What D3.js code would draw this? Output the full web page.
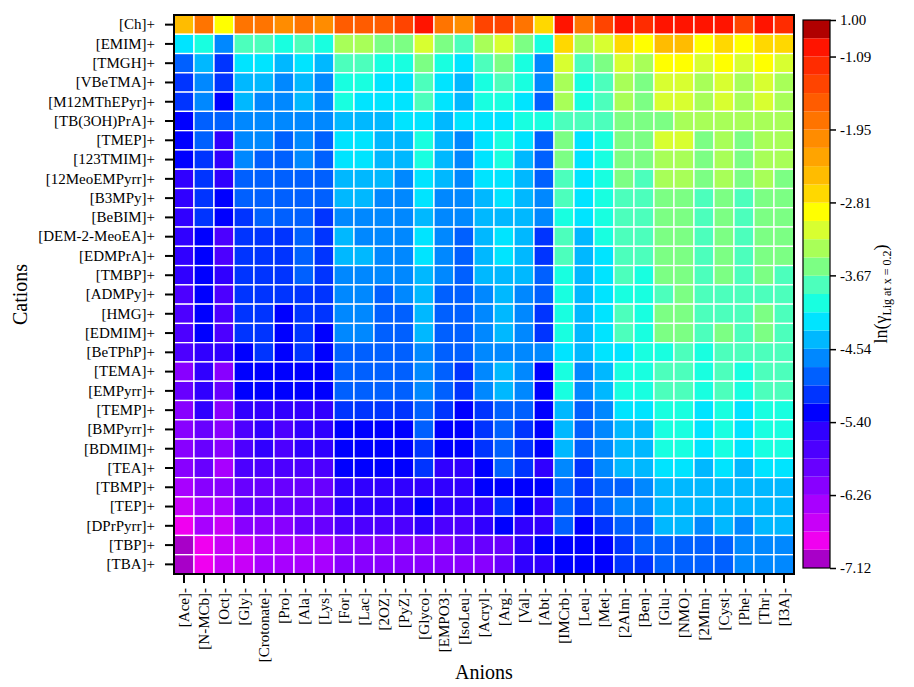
<!DOCTYPE html>
<html>
<head>
<meta charset="utf-8">
<script src="https://cdn.jsdelivr.net/npm/d3@7"></script>
<style>
  body { margin: 0; background: #fff; }
  text { font-family: "Liberation Serif", "Times New Roman", serif; fill: #000; }
</style>
</head>
<body>
<div class="Canvas"></div>
<script>
// Anions along x, cations along y.
const anions = ['[Ace]-', '[N-MCb]-', '[Oct]-', '[Gly]-', '[Crotonate]-', '[Pro]-', '[Ala]-', '[Lys]-', '[For]-', '[Lac]-',
    '[2OZ]-', '[PyZ]-', '[Glyco]-', '[EMPO3]-', '[IsoLeu]-', '[Acryl]-', '[Arg]-', '[Val]-', '[Abt]-', '[IMCrb]-',
    '[Leu]-', '[Met]-', '[2AIm]-', '[Ben]-', '[Glu]-', '[NMO]-', '[2MIm]-', '[Cyst]-', '[Phe]-', '[Thr]-', '[I3A]-'];
const cations = ['[Ch]+', '[EMIM]+', '[TMGH]+', '[VBeTMA]+', '[M12MThEPyr]+', '[TB(3OH)PrA]+', '[TMEP]+', '[123TMIM]+',
    '[12MeoEMPyrr]+', '[B3MPy]+', '[BeBIM]+', '[DEM-2-MeoEA]+', '[EDMPrA]+', '[TMBP]+', '[ADMPy]+', '[HMG]+', '[EDMIM]+',
    '[BeTPhP]+', '[TEMA]+', '[EMPyrr]+', '[TEMP]+', '[BMPyrr]+', '[BDMIM]+', '[TEA]+', '[TBMP]+', '[TEP]+', '[DPrPyrr]+',
    '[TBP]+', '[TBA]+'];

// ln(gamma) values, one row per cation.
const values = [
    [-2.49,-1.85,-2.92,-1.85,-1.85,-2.06,-1.85,-2.06,-1.63,-1.63,-1.63,-1.42,-0.98,-1.85,-2.06,-1.42,-1.42,-1.85,-2.71,-0.98,-1.85,-1.42,-0.98,-1.20,-0.98,-0.98,-0.98,-0.98,-1.42,-0.98,-1.20],
    [-4.22,-4.00,-4.65,-3.78,-3.78,-4.00,-3.78,-4.00,-3.35,-3.35,-3.57,-3.57,-3.14,-3.57,-3.78,-3.35,-3.14,-3.57,-4.00,-2.71,-3.35,-3.14,-2.71,-2.92,-2.49,-2.49,-2.92,-2.71,-2.92,-2.71,-2.71],
    [-4.86,-4.43,-5.08,-4.22,-4.22,-4.43,-4.22,-4.43,-3.78,-3.78,-4.00,-4.00,-3.57,-4.00,-4.22,-3.78,-3.57,-4.00,-4.65,-3.14,-3.78,-3.57,-3.14,-3.35,-2.92,-2.92,-3.14,-2.92,-3.14,-2.92,-3.14],
    [-5.08,-4.65,-5.08,-4.43,-4.43,-4.65,-4.43,-4.65,-4.00,-4.00,-4.22,-4.22,-3.78,-4.22,-4.43,-4.00,-3.78,-4.00,-4.65,-3.35,-4.00,-3.78,-3.35,-3.57,-3.14,-3.14,-3.35,-3.14,-3.35,-3.14,-3.35],
    [-5.08,-4.65,-5.29,-4.43,-4.65,-4.65,-4.43,-4.65,-4.00,-4.22,-4.22,-4.22,-3.78,-4.22,-4.43,-4.00,-4.00,-4.22,-4.86,-3.35,-4.00,-3.78,-3.35,-3.57,-3.14,-3.14,-3.35,-3.14,-3.35,-3.14,-3.35],
    [-5.29,-4.86,-4.86,-4.65,-4.65,-4.65,-4.65,-4.65,-4.43,-4.43,-4.43,-4.22,-4.22,-4.43,-4.22,-4.22,-4.22,-4.00,-4.00,-3.78,-3.78,-3.78,-3.57,-3.57,-3.57,-3.35,-3.35,-3.35,-3.35,-3.35,-3.35],
    [-5.29,-4.86,-5.51,-4.65,-4.65,-4.86,-4.65,-4.86,-4.22,-4.22,-4.43,-4.43,-4.00,-4.43,-4.65,-4.22,-4.00,-4.22,-4.86,-3.57,-4.22,-4.00,-3.57,-3.57,-3.14,-3.14,-3.57,-3.35,-3.57,-3.35,-3.35],
    [-5.29,-5.08,-5.51,-4.65,-4.86,-4.86,-4.65,-4.86,-4.22,-4.22,-4.43,-4.43,-4.00,-4.43,-4.65,-4.22,-4.00,-4.43,-4.86,-3.57,-4.22,-4.00,-3.57,-3.57,-3.35,-3.35,-3.57,-3.35,-3.57,-3.35,-3.35],
    [-5.51,-5.08,-5.51,-4.86,-4.86,-4.86,-4.86,-4.86,-4.43,-4.43,-4.43,-4.65,-4.22,-4.43,-4.65,-4.22,-4.22,-4.43,-4.86,-3.78,-4.22,-4.00,-3.57,-3.78,-3.35,-3.35,-3.57,-3.35,-3.57,-3.35,-3.57],
    [-5.51,-5.08,-5.29,-4.86,-4.86,-4.86,-4.86,-4.86,-4.43,-4.43,-4.65,-4.65,-4.22,-4.65,-4.65,-4.43,-4.22,-4.43,-4.65,-3.78,-4.22,-4.00,-3.78,-3.78,-3.57,-3.57,-3.78,-3.57,-3.78,-3.57,-3.57],
    [-5.51,-5.08,-5.29,-5.08,-4.86,-4.86,-4.86,-5.08,-4.65,-4.65,-4.65,-4.65,-4.43,-4.65,-4.65,-4.43,-4.43,-4.43,-4.65,-4.00,-4.22,-4.00,-3.78,-3.78,-3.57,-3.57,-3.78,-3.57,-3.78,-3.57,-3.57],
    [-5.51,-5.29,-5.72,-5.08,-5.08,-5.08,-4.86,-5.08,-4.43,-4.65,-4.65,-4.65,-4.22,-4.65,-4.86,-4.43,-4.22,-4.43,-5.08,-3.78,-4.43,-4.00,-3.78,-3.78,-3.57,-3.57,-3.78,-3.57,-3.78,-3.57,-3.57],
    [-5.51,-5.29,-5.72,-5.08,-5.08,-5.08,-4.86,-5.08,-4.43,-4.43,-4.65,-4.65,-4.22,-4.65,-4.86,-4.43,-4.22,-4.43,-5.08,-3.78,-4.43,-4.22,-3.78,-3.78,-3.57,-3.57,-3.78,-3.57,-3.78,-3.57,-3.57],
    [-5.51,-5.29,-5.51,-5.08,-5.08,-5.08,-4.86,-5.08,-4.65,-4.65,-4.65,-4.65,-4.43,-4.65,-4.86,-4.43,-4.43,-4.43,-4.86,-4.00,-4.43,-4.22,-3.78,-4.00,-3.57,-3.57,-3.78,-3.57,-3.78,-3.57,-3.78],
    [-5.72,-5.29,-5.72,-5.08,-5.08,-5.08,-5.08,-5.08,-4.65,-4.65,-4.86,-4.65,-4.43,-4.86,-4.86,-4.65,-4.43,-4.65,-4.86,-4.00,-4.43,-4.22,-4.00,-4.00,-3.78,-3.57,-3.78,-3.78,-3.78,-3.78,-3.78],
    [-5.72,-5.29,-5.72,-5.08,-5.08,-5.29,-5.08,-5.08,-4.65,-4.65,-4.86,-4.86,-4.43,-4.86,-4.86,-4.65,-4.43,-4.65,-5.08,-4.00,-4.43,-4.22,-3.78,-4.00,-3.57,-3.57,-3.78,-3.78,-3.78,-3.57,-3.78],
    [-5.72,-5.29,-5.72,-5.08,-5.08,-5.29,-5.08,-5.29,-4.65,-4.65,-4.86,-4.86,-4.43,-4.86,-4.86,-4.65,-4.43,-4.65,-5.08,-4.00,-4.43,-4.22,-3.78,-4.00,-3.57,-3.57,-3.78,-3.57,-3.78,-3.57,-3.78],
    [-5.72,-5.51,-5.51,-5.29,-5.08,-5.29,-5.08,-5.29,-4.86,-4.86,-4.86,-4.86,-4.65,-4.86,-4.86,-4.65,-4.65,-4.65,-4.65,-4.22,-4.43,-4.22,-4.22,-4.00,-4.00,-3.78,-4.00,-3.78,-3.78,-3.78,-3.78],
    [-6.15,-5.51,-6.15,-5.29,-5.29,-5.29,-5.29,-5.29,-4.86,-4.86,-4.86,-4.86,-4.65,-4.86,-5.08,-4.65,-4.43,-4.65,-5.29,-4.00,-4.65,-4.43,-4.00,-4.00,-3.78,-3.78,-4.00,-3.78,-4.00,-3.78,-3.78],
    [-5.94,-5.51,-5.94,-5.29,-5.29,-5.29,-5.29,-5.29,-4.86,-4.86,-4.86,-4.86,-4.65,-4.86,-5.08,-4.65,-4.43,-4.65,-5.29,-4.00,-4.65,-4.43,-4.00,-4.00,-3.78,-3.78,-4.00,-3.78,-4.00,-3.78,-3.78],
    [-6.15,-5.51,-6.15,-5.51,-5.51,-5.51,-5.51,-5.51,-5.08,-5.08,-5.08,-5.08,-4.86,-5.08,-5.29,-5.08,-4.86,-4.86,-5.29,-4.43,-4.86,-4.65,-4.22,-4.22,-4.00,-4.00,-4.22,-4.00,-4.22,-4.00,-4.00],
    [-6.15,-5.94,-6.15,-5.72,-5.51,-5.72,-5.51,-5.51,-5.29,-5.29,-5.29,-5.29,-4.86,-5.29,-5.29,-5.08,-4.86,-5.08,-5.29,-4.43,-4.86,-4.65,-4.43,-4.43,-4.00,-4.00,-4.22,-4.00,-4.22,-4.00,-4.00],
    [-6.15,-5.94,-6.15,-5.72,-5.51,-5.72,-5.51,-5.51,-5.29,-5.29,-5.29,-5.29,-5.08,-5.29,-5.29,-5.08,-4.86,-5.08,-5.29,-4.43,-4.86,-4.65,-4.43,-4.43,-4.00,-4.00,-4.22,-4.00,-4.22,-4.00,-4.00],
    [-6.15,-5.94,-6.37,-5.72,-5.72,-5.72,-5.72,-5.72,-5.29,-5.29,-5.29,-5.29,-5.08,-5.51,-5.51,-5.29,-4.86,-5.08,-5.51,-4.65,-5.08,-4.65,-4.43,-4.43,-4.22,-4.22,-4.43,-4.22,-4.43,-4.22,-4.22],
    [-6.37,-6.15,-6.15,-5.94,-5.94,-5.94,-5.94,-5.94,-5.51,-5.51,-5.51,-5.51,-5.51,-5.51,-5.51,-5.29,-5.29,-5.29,-5.29,-4.86,-5.08,-4.86,-4.86,-4.65,-4.43,-4.43,-4.43,-4.43,-4.43,-4.43,-4.43],
    [-6.58,-6.37,-6.37,-5.94,-5.94,-5.94,-5.94,-5.94,-5.51,-5.51,-5.51,-5.51,-5.29,-5.51,-5.51,-5.51,-5.08,-5.29,-5.51,-4.86,-5.08,-4.86,-4.65,-4.65,-4.43,-4.43,-4.43,-4.43,-4.43,-4.43,-4.43],
    [-6.80,-6.37,-6.58,-6.15,-6.15,-6.15,-5.94,-5.94,-5.72,-5.72,-5.72,-5.72,-5.51,-5.72,-5.72,-5.51,-5.29,-5.51,-5.51,-4.86,-5.29,-5.08,-4.86,-4.86,-4.43,-4.43,-4.65,-4.43,-4.65,-4.43,-4.43],
    [-7.01,-6.80,-6.58,-6.58,-6.37,-6.37,-6.37,-6.37,-6.15,-6.15,-6.15,-6.15,-6.15,-6.15,-5.94,-5.94,-5.94,-5.51,-5.29,-5.29,-5.29,-5.29,-5.08,-4.86,-4.86,-4.86,-4.86,-4.86,-4.65,-4.65,-4.65],
    [-7.01,-6.80,-6.58,-6.58,-6.37,-6.37,-6.37,-6.37,-6.15,-6.15,-6.15,-6.15,-6.15,-6.15,-6.15,-6.15,-5.94,-5.51,-5.51,-5.29,-5.29,-5.29,-5.08,-5.08,-4.86,-4.86,-4.86,-4.86,-4.65,-4.65,-4.65]
];

// Discrete colour levels, lowest first (28 even bands from -7.12 to -1.09, then two top bands).
const levelColors = ['#a800c8', '#f000f0', '#c800f8', '#a800ff', '#8800ff', '#6800ff', '#4c00ff', '#3000ff',
    '#0000ff', '#0034ff', '#0060ff', '#0088ff', '#00b8ff', '#00e4ff', '#18ffe0', '#4cffbc', '#7cff84', '#a8ff58',
    '#d8ff30', '#ffff00', '#ffd800', '#ffbc00', '#ffa400', '#ff8c00', '#ff7400', '#ff5c00', '#ff4400', '#ff2c00',
    '#ff1400', '#b00000'];
const levelMin = -7.12, levelLow = -1.09, levelMax = 1.00;
const cbTickValues = [1.00, -1.09, -1.95, -2.81, -3.67, -4.54, -5.40, -6.26, -7.12];

const width = 914, height = 687;
const plot = { left: 174, right: 794, top: 15, bottom: 574 };
const cb = { left: 803, width: 27, top: 20, bottom: 568 };

const svg = d3.select('.Canvas').append('svg').attr('width', width).attr('height', height);

// Band edges of the colour bar: 31 edges -> 30 bands.
const step = (levelLow - levelMin) / 28;
const edges = d3.range(30).map((i) => levelMin + i * step);
edges.push(levelMax);
const color = d3.scaleThreshold().domain(edges.slice(1, 30)).range(levelColors);

const x = d3.scaleBand().domain(anions).range([plot.left, plot.right]);
const y = d3.scaleBand().domain(cations).range([plot.top, plot.bottom]);

// Heat map cells.
const cells = [];
values.forEach((row, i) => row.forEach((v, j) => cells.push({ cation: cations[i], anion: anions[j], value: v })));
svg.append('g')
    .selectAll('rect')
    .data(cells)
    .enter()
    .append('rect')
    .attr('x', (d) => x(d.anion))
    .attr('y', (d) => y(d.cation))
    .attr('width', x.bandwidth())
    .attr('height', y.bandwidth())
    .attr('fill', (d) => color(d.value))
    .attr('stroke', '#fff')
    .attr('stroke-width', 1.3);

// Axes.
const yAxis = svg.append('g')
    .attr('transform', `translate(${plot.left},0)`)
    .call(d3.axisLeft(y).tickSize(9).tickPadding(10));
yAxis.select('.domain').remove();
yAxis.selectAll('line').attr('stroke-width', 2);
yAxis.selectAll('text').attr('font-size', '15px').style('font-family', '"Liberation Serif", serif');

const xAxis = svg.append('g')
    .attr('transform', `translate(0,${plot.bottom})`)
    .call(d3.axisBottom(x).tickSize(9));
xAxis.select('.domain').remove();
xAxis.selectAll('line').attr('stroke-width', 2);
xAxis.selectAll('text')
    .attr('transform', 'rotate(-90)')
    .attr('text-anchor', 'end')
    .attr('x', -14)
    .attr('y', 0)
    .attr('dy', '0.35em')
    .attr('font-size', '15px')
    .style('font-family', '"Liberation Serif", serif');

// Plot frame.
svg.append('rect')
    .attr('x', plot.left)
    .attr('y', plot.top)
    .attr('width', plot.right - plot.left)
    .attr('height', plot.bottom - plot.top)
    .attr('fill', 'none')
    .attr('stroke', '#000')
    .attr('stroke-width', 2);

// Axis titles.
svg.append('text')
    .attr('x', (plot.left + plot.right) / 2)
    .attr('y', 679)
    .attr('text-anchor', 'middle')
    .attr('font-size', '20px')
    .text('Anions');
svg.append('text')
    .attr('transform', `translate(27,${(plot.top + plot.bottom) / 2}) rotate(-90)`)
    .attr('text-anchor', 'middle')
    .attr('font-size', '20px')
    .text('Cations');

// Colour bar.
const cbY = d3.scaleLinear()
    .domain(edges)
    .range(edges.map((d, i) => cb.bottom - i * (cb.bottom - cb.top) / 30));
const cbG = svg.append('g');
cbG.selectAll('rect')
    .data(levelColors)
    .enter()
    .append('rect')
    .attr('x', cb.left)
    .attr('y', (d, i) => cbY(edges[i + 1]))
    .attr('width', cb.width)
    .attr('height', (d, i) => cbY(edges[i]) - cbY(edges[i + 1]))
    .attr('fill', (d) => d);
cbG.append('rect')
    .attr('x', cb.left)
    .attr('y', cb.top)
    .attr('width', cb.width)
    .attr('height', cb.bottom - cb.top)
    .attr('fill', 'none')
    .attr('stroke', '#000')
    .attr('stroke-width', 1.2);
const cbAxis = svg.append('g')
    .attr('transform', `translate(${cb.left + cb.width},0)`)
    .call(d3.axisRight(cbY).tickValues(cbTickValues).tickFormat((d) => d.toFixed(2)).tickSize(6).tickPadding(4));
cbAxis.select('.domain').remove();
cbAxis.selectAll('line').attr('stroke-width', 1.5);
cbAxis.selectAll('text').attr('font-size', '15px').style('font-family', '"Liberation Serif", serif');

// Colour bar title: ln(gamma with subscript).
const cbTitle = svg.append('text')
    .attr('transform', `translate(887,${(cb.top + cb.bottom) / 2}) rotate(-90)`)
    .attr('text-anchor', 'middle')
    .attr('font-size', '18px');
cbTitle.append('tspan').text('ln(\u03b3');
cbTitle.append('tspan').attr('font-size', '12px').attr('dy', 4).text('Lig at x = 0.2');
cbTitle.append('tspan').attr('dy', -4).text(')');
</script>
</body>
</html>
